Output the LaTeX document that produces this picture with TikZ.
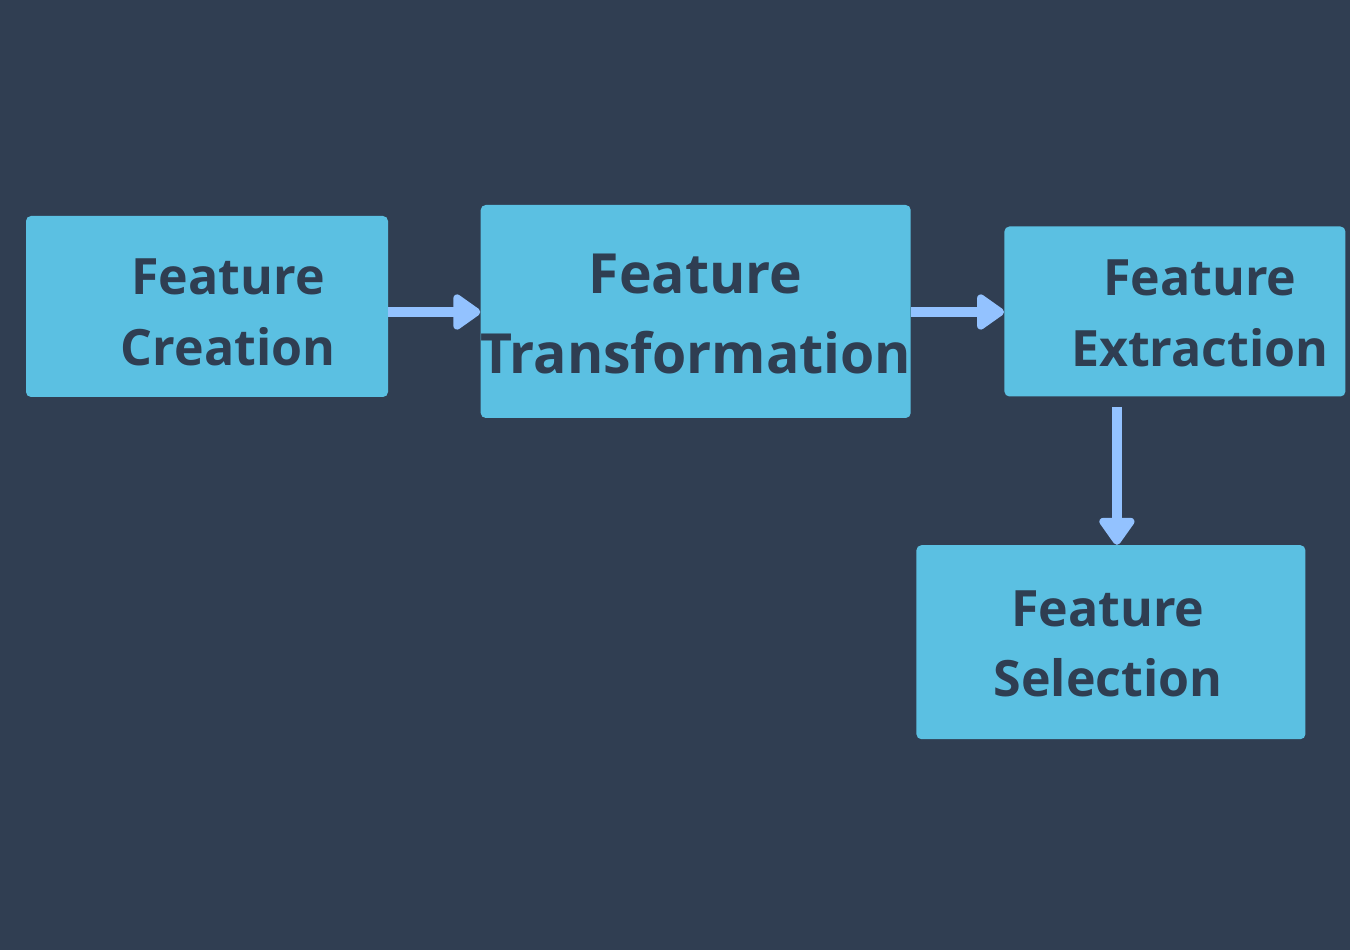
\documentclass[tikz,border=0pt]{standalone}
\usepackage{fontspec}
\setmainfont{Open Sans}[Ligatures=NoCommon]
\usetikzlibrary{positioning,arrows.meta}

\definecolor{bgblue}{HTML}{303E52}
\definecolor{boxblue}{HTML}{5BC0E2}
\definecolor{inkblue}{HTML}{2F3E52}
\definecolor{arrowblue}{HTML}{93C2FF}

\begin{document}
\begin{tikzpicture}[>={Triangle[round,length=0.6cm,width=0.8cm]},
    box/.style={rectangle,fill=boxblue,rounded corners=0.1cm,inner sep=0pt},
    boxtext/.style={align=center,text=inkblue,font=\bfseries\fontsize{28.5}{40}\selectfont},
    flow/.style={->,draw=arrowblue,fill=arrowblue,line width=0.2cm}]

  \fill[bgblue] (0,0) rectangle (27,19);
  \useasboundingbox (0,0) rectangle (27,19);

  \node[box,minimum width=7.24cm,minimum height=3.62cm] (creation) at (4.14,12.87) {};
  \node[box,minimum width=8.6cm,minimum height=4.26cm,right=1.84cm of creation,yshift=-0.1cm] (transformation) {};
  \node[box,minimum width=6.82cm,minimum height=3.4cm,right=1.86cm of transformation] (extraction) {};
  \node[box,minimum width=7.78cm,minimum height=3.88cm,below=2.96cm of extraction.south,xshift=-1.28cm] (selection) {};

  \node[boxtext] (creationtext) at ([xshift=0.42cm,yshift=-0.12cm]creation.center) {Feature\\Creation};
  \node[boxtext,font=\bfseries\fontsize{31.5}{45.5}\selectfont] (transformationtext) at ([yshift=-0.06cm]transformation.center) {Feature\\Transformation};
  \node[boxtext] (extractiontext) at ([xshift=0.5cm,yshift=-0.04cm]extraction.center) {Feature\\Extraction};
  \node[boxtext] (selectiontext) at ([xshift=-0.06cm,yshift=-0.04cm]selection.center) {Feature\\Selection};

  \draw[flow] (creation.east |- 0,12.76) -- (transformation.west |- 0,12.76);
  \draw[flow] (transformation.east |- 0,12.76) -- (extraction.west |- 0,12.76);
  \draw[flow] ([xshift=-1.16cm,yshift=-0.2cm]extraction.south) -- ([xshift=-1.16cm]extraction.south |- selection.north);
\end{tikzpicture}
\end{document}
